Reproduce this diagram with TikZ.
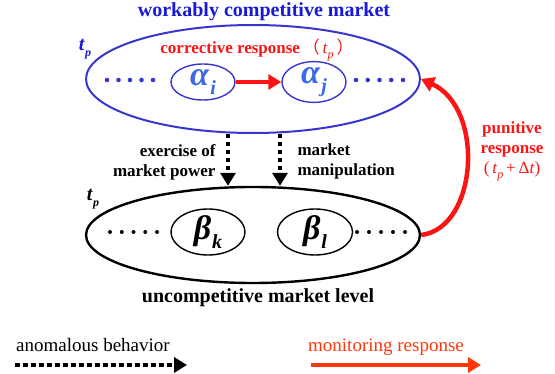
\documentclass[tikz,border=0pt]{standalone}
\usepackage{fontspec}
\setmainfont{Liberation Serif}
\newfontfamily\cjk{Noto Sans CJK SC}
\usetikzlibrary{arrows.meta,shapes.geometric}
\definecolor{titleblue}{RGB}{25,25,215}
\definecolor{ringblue}{RGB}{55,55,205}
\definecolor{greekblue}{RGB}{60,105,230}
\definecolor{respred}{RGB}{250,20,20}
\definecolor{legendred}{RGB}{255,55,10}
\newcommand{\lowidx}[1]{\kern1pt\raisebox{-0.25em}{\fontsize{20}{20}\selectfont\textit{#1}}}
\newcommand{\tpsub}{\textit{t}\raisebox{-0.3em}{\fontsize{12}{12}\selectfont\textit{p}}}
\tikzset{
  market/.style={draw, ellipse, inner sep=0pt},
  agent/.style={draw, ellipse, inner sep=0pt, line width=1.4pt},
  heading/.style={font=\fontsize{20}{22}\selectfont\bfseries},
  note/.style={font=\fontsize{17}{20}\selectfont\bfseries, align=center},
  anomal/.style={line width=4.5pt, dash pattern=on 4.5pt off 3.5pt,
    -{Triangle[length=13pt,width=15pt]}},
  respond/.style={line width=4.5pt, -{Triangle[length=13pt,width=15pt]}},
}
\begin{document}
\begin{tikzpicture}[x=1pt,y=-1pt]
\useasboundingbox (0,0) rectangle (555,374);

% competitive market (upper level)
\node[heading, text=titleblue] (title) at (264,12) {workably competitive market};
\node[market, draw=ringblue, line width=2pt, minimum width=334pt, minimum height=108pt] (top) at (253,79) {};
\node[agent, draw=ringblue, minimum width=64pt, minimum height=36pt, text=greekblue,
  font=\fontsize{34}{34}\selectfont\bfseries] (ai) at (203,82) {\textit{α}\lowidx{i}};
\node[agent, draw=ringblue, minimum width=64pt, minimum height=36pt, text=greekblue,
  font=\fontsize{34}{34}\selectfont\bfseries] (aj) at (314,82) {\textit{α}\lowidx{j}};
\node[font=\fontsize{20}{20}\selectfont\bfseries, text=titleblue] (tpa) at (85,49) {\tpsub};
\node[note, text=respred] (corr) at (257,50) {corrective response\,{\mdseries{\cjk（}\,\tpsub\,{\cjk）}}};
\foreach \x in {107,118.5,130,141.5,153,356,367.75,379.5,391.25,403}
  \fill[ringblue] (\x,80) circle (2.3pt);
\draw[respond, draw=respred, line width=4pt] (ai) -- (aj);

% uncompetitive market (lower level)
\node[market, line width=2.4pt, minimum width=334pt, minimum height=96pt] (bot) at (253,235) {};
\node[agent, minimum width=74pt, minimum height=46pt,
  font=\fontsize{34}{34}\selectfont\bfseries] (bk) at (208,232) {\textit{β}\lowidx{k}};
\node[agent, minimum width=75pt, minimum height=46pt,
  font=\fontsize{34}{34}\selectfont\bfseries] (bl) at (315,232) {\textit{β}\lowidx{l}};
\node[font=\fontsize{20}{20}\selectfont\bfseries] (tpb) at (93,199) {\tpsub};
\node[heading] (lower) at (258,298) {uncompetitive market level};
\foreach \x in {110,121.75,133.5,145.25,157,357,369,381,393,405}
  \fill (\x,232) circle (2pt);

% anomalous behaviour going down
\coordinate (d1) at (228,0);
\coordinate (d2) at (280,0);
\draw[anomal] (top.south -| d1) -- (bot.north -| d1);
\draw[anomal] (top.south -| d2) -- (bot.north -| d2);
\node[note, anchor=east, align=right] (power) at (219,162) {exercise of\\market power};
\node[note, anchor=west, align=left] (manip) at (294,161) {market\\manipulation};

% punitive response going up
\draw[respond, draw=respred, line width=4.5pt] (bot.east) .. controls (478,228) and (485,108) .. (top.east);
\node[note, text=respred] (pun) at (512,151) {punitive\\response\\{\mdseries(\,\tpsub\,+\,Δ\textit{t})}};

% legend
\node[font=\fontsize{19}{19}\selectfont] (lga) at (93,345) {anomalous behavior};
\coordinate (la0) at (15,365);
\coordinate (la1) at (187,365);
\draw[anomal, line width=4pt] (la0) -- (la1);
\node[font=\fontsize{19}{19}\selectfont, text=legendred] (lgm) at (386,347) {monitoring response};
\coordinate (lm0) at (311,365);
\coordinate (lm1) at (481,365);
\draw[respond, draw=legendred] (lm0) -- (lm1);
\end{tikzpicture}
\end{document}
